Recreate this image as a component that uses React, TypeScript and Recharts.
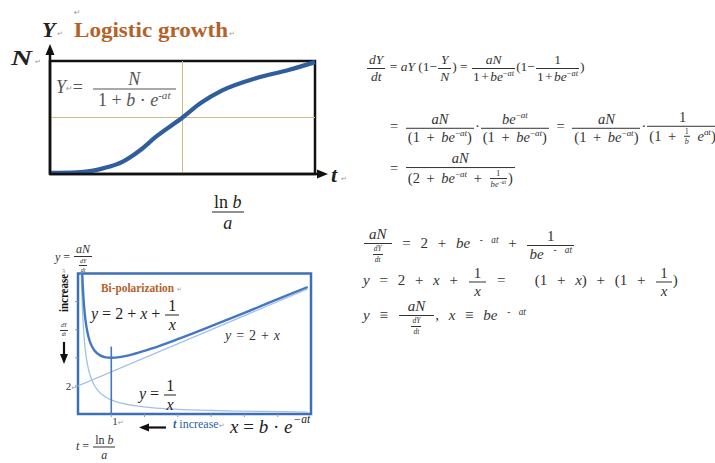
import React from 'react';
import { LineChart, Line, XAxis, YAxis, ReferenceLine, ReferenceArea } from 'recharts';

const SERIF = "'Liberation Serif', 'Times New Roman', serif";
const MARK_FONT = "'DejaVu Sans', sans-serif";

// Logistic growth: time t (0..10) against Y as a share of N
const growthT = [0, 1, 1.5, 2, 2.75, 3.4, 4, 5, 5.7, 6.5, 7.8, 9, 10];
const growthY = [0.01, 0.015, 0.025, 0.05, 0.11, 0.21, 0.33, 0.5, 0.63, 0.74, 0.85, 0.92, 0.99];

// Bi-polarization panel, x = b·e^(-at)
// y = 2 + x + 1/x
const sumX = [0.11, 0.13, 0.16, 0.2, 0.25, 0.32, 0.4, 0.5, 0.65, 0.8, 1, 1.3, 1.7, 2.2, 3, 4, 5, 6, 6.9];
const sumY = [11.2, 9.82, 8.41, 7.2, 6.25, 5.45, 4.9, 4.5, 4.19, 4.05, 4, 4.07, 4.29, 4.65, 5.33, 6.25, 7.2, 8.17, 9.04];
// y = 1/x
const recipX = [0.09, 0.1, 0.12, 0.15, 0.2, 0.25, 0.33, 0.45, 0.6, 0.8, 1, 1.3, 1.7, 2.2, 3, 4, 5, 6, 6.9];
const recipY = [11.1, 10, 8.33, 6.67, 5, 4, 3.03, 2.22, 1.67, 1.25, 1, 0.77, 0.59, 0.45, 0.33, 0.25, 0.2, 0.17, 0.14];
// y = 2 + x
const lineX = [0, 6.9];
const lineY = [2, 8.9];

const bipolarXTicks = [1, 2, 3, 4, 5, 6];
const bipolarYTicks = [2, 4, 6, 8];

const colors = {
  frame: '#111',
  guide: '#cbbd84',
  growth: '#2f5e9c',
  panel: '#3d6fb8',
  curve: '#4477c2',
  faint: '#a3c0e6',
  brown: '#b4622a',
  ink: '#333',
  mark: '#999',
  blueText: '#2e5fa3',
};

const zip = (xs: number[], ys: number[]) => xs.map((x, i) => ({ x, y: ys[i] }));

// paragraph mark left behind by the word processor
function Ret() {
  return <span style={{ fontFamily: MARK_FONT, fontSize: '0.45em', color: colors.mark, verticalAlign: '0.3em' }}>↵</span>;
}

function Sup({ children }: { children: React.ReactNode }) {
  return <sup style={{ fontSize: '0.62em', verticalAlign: '0.6em', lineHeight: 0 }}>{children}</sup>;
}

function Frac({ n, d, pad = 2, size }: { n: React.ReactNode; d: React.ReactNode; pad?: number; size?: string }) {
  return (
    <span style={{ display: 'inline-flex', flexDirection: 'column', alignItems: 'center', verticalAlign: 'middle', fontSize: size, padding: '0 1px' }}>
      <span style={{ padding: `0 ${pad}px 1px` }}>{n}</span>
      <span style={{ alignSelf: 'stretch', borderTop: '1px solid currentColor' }} />
      <span style={{ padding: `1px ${pad}px 0` }}>{d}</span>
    </span>
  );
}

function Row({ x, y, size, color = colors.ink, spacing = 0, children }: {
  x: number; y: number; size: number; color?: string; spacing?: number; children: React.ReactNode;
}) {
  return (
    <div style={{
      position: 'absolute', left: x, top: y, transform: 'translateY(-50%)',
      fontFamily: SERIF, fontSize: size, color, whiteSpace: 'pre', lineHeight: 1, wordSpacing: spacing,
    }}>
      {children}
    </div>
  );
}

const bea = <><i>be</i><Sup>−<i>at</i></Sup></>;
const beaSpaced = <><i>be</i>{' '}<Sup>{'- '}<i>at</i></Sup></>;
const tight = <span style={{ wordSpacing: -2 }}>{'1 + '}{bea}</span>;
const dYdt = <Frac n={<i>dY</i>} d={<i>dt</i>} size="0.5em" pad={1} />;

function GrowthChart() {
  return (
    <LineChart width={340} height={190} margin={{ top: 61, right: 25, bottom: 16, left: 50 }}>
      <XAxis type="number" dataKey="x" domain={[0, 10]} hide />
      <YAxis type="number" domain={[0, 1]} hide />
      <ReferenceLine x={5} stroke={colors.guide} strokeWidth={1} />
      <ReferenceLine y={0.5} stroke={colors.guide} strokeWidth={1} />
      <ReferenceArea x1={0} x2={10} y1={0} y2={1} fill="none" stroke={colors.frame} strokeWidth={2.5} />
      <Line
        data={zip(growthT, growthY)}
        dataKey="y"
        type="monotone"
        stroke={colors.growth}
        strokeWidth={4.2}
        dot={false}
        isAnimationActive={false}
      />
    </LineChart>
  );
}

const XTick = ({ x, y, payload }: any) =>
  payload.value === 1 ? (
    <text x={x + 1} y={y} dy={6} fontSize={11} fontFamily={SERIF} fill={colors.ink}>
      1<tspan fontSize={7} fontFamily={MARK_FONT} fill={colors.mark}>↵</tspan>
    </text>
  ) : <g />;

const YTick = ({ x, y, payload }: any) =>
  payload.value === 2 ? (
    <text x={x + 4} y={y} dy={4} textAnchor="end" fontSize={11} fontFamily={SERIF} fill={colors.ink}>
      2<tspan fontSize={7} fontFamily={MARK_FONT} fill={colors.mark}>↵</tspan>
    </text>
  ) : <g />;

function BipolarChart() {
  return (
    <LineChart width={330} height={180} margin={{ top: 23.5, right: 19, bottom: 2, left: 58 }}>
      <XAxis
        type="number"
        dataKey="x"
        domain={[0, 7]}
        ticks={bipolarXTicks}
        axisLine={false}
        tickSize={3}
        tickLine={{ stroke: '#8d9bb0' }}
        tick={<XTick />}
        height={14}
        allowDataOverflow
      />
      <YAxis
        type="number"
        domain={[0, 10]}
        ticks={bipolarYTicks}
        axisLine={false}
        tickSize={3}
        tickLine={{ stroke: '#8d9bb0' }}
        tick={<YTick />}
        width={20}
        allowDataOverflow
      />
      <Line data={zip(lineX, lineY)} dataKey="y" type="linear" stroke={colors.faint} strokeWidth={1.3} dot={false} isAnimationActive={false} />
      <Line data={zip(recipX, recipY)} dataKey="y" type="monotone" stroke={colors.faint} strokeWidth={1.3} dot={false} isAnimationActive={false} />
      <Line data={zip(sumX, sumY)} dataKey="y" type="monotone" stroke={colors.curve} strokeWidth={2.4} dot={false} isAnimationActive={false} />
      <ReferenceLine segment={[{ x: 1, y: 0 }, { x: 1, y: 4.8 }]} stroke={colors.curve} strokeWidth={1.6} />
      <ReferenceArea x1={0} x2={7} y1={0} y2={10} fill="none" stroke={colors.panel} strokeWidth={2.5} />
    </LineChart>
  );
}

export default function App() {
  return (
    <div style={{ position: 'absolute', left: 0, top: 0, width: 715, height: 463, background: '#fff', overflow: 'hidden', fontFamily: SERIF }}>
      <div style={{ position: 'absolute', left: 0, top: 0 }}>
        <GrowthChart />
      </div>
      <div style={{ position: 'absolute', left: 0, top: 250 }}>
        <BipolarChart />
      </div>

      <svg width={715} height={463} style={{ position: 'absolute', left: 0, top: 0, pointerEvents: 'none' }} fontFamily={SERIF}>
        {/* axes with arrow heads for the growth curve */}
        <line x1={50} y1={174} x2={50} y2={52} stroke={colors.frame} strokeWidth={2.5} />
        <polygon points="50,44 45.5,55 54.5,55" fill={colors.frame} />
        <line x1={50} y1={174} x2={318} y2={174} stroke={colors.frame} strokeWidth={2.5} />
        <polygon points="328,174 317,169.5 317,178.5" fill={colors.frame} />

        <text x={74} y={15} fontSize={8} fontFamily={MARK_FONT} fill={colors.mark}>↵</text>
        <text x={42} y={37} fontSize={22} fontWeight="bold" fontStyle="italic" fill="#222">Y</text>
        <text x={57} y={36} fontSize={7} fontFamily={MARK_FONT} fill={colors.mark}>↵</text>
        <text x={74} y={37} fontSize={21} fontWeight="bold" fill={colors.brown} textLength={154} lengthAdjust="spacingAndGlyphs">Logistic growth</text>
        <text x={229} y={36} fontSize={7} fontFamily={MARK_FONT} fill={colors.mark}>↵</text>
        <text x={11} y={65} fontSize={22} fontWeight="bold" fontStyle="italic" fill="#222" textLength={21} lengthAdjust="spacingAndGlyphs">N</text>
        <text x={35} y={64} fontSize={7} fontFamily={MARK_FONT} fill={colors.mark}>↵</text>
        <text x={331} y={182} fontSize={22} fontWeight="bold" fontStyle="italic" fill="#222">t</text>
        <text x={341} y={181} fontSize={7} fontFamily={MARK_FONT} fill={colors.mark}>↵</text>

        {/* bi-polarization labels */}
        <text x={101} y={292} fontSize={12} fontWeight="bold" fill={colors.brown} textLength={73} lengthAdjust="spacingAndGlyphs">Bi-polarization</text>
        <text x={177} y={291} fontSize={6} fontFamily={MARK_FONT} fill={colors.mark}>↵</text>
        <text x={225} y={340} fontSize={14} fill={colors.ink} textLength={55} lengthAdjust="spacing">
          <tspan fontStyle="italic">y</tspan> = 2 + <tspan fontStyle="italic">x</tspan>
        </text>
        <text x={63} y={312} fontSize={13} fontWeight="bold" fill="#111" transform="rotate(-90 63 312)" textLength={38} lengthAdjust="spacingAndGlyphs" dominantBaseline="central">increase</text>
        <text x={63} y={273} fontSize={6} fontFamily={MARK_FONT} fill={colors.mark} transform="rotate(-90 63 273)" dominantBaseline="central">↵</text>
        <line x1={64} y1={342} x2={64} y2={356} stroke="#111" strokeWidth={2.2} />
        <polygon points="64,364 60,354 68,354" fill="#111" />

        <line x1={142} y1={427.5} x2={166} y2={427.5} stroke="#111" strokeWidth={2.2} />
        <polygon points="139,427.5 149,423.5 149,431.5" fill="#111" />
        <text x={173} y={428} fontSize={12} fill={colors.blueText}>
          <tspan fontWeight="bold" fontStyle="italic">t</tspan> increase<tspan fontSize={7} fontFamily={MARK_FONT} fill={colors.mark}>↵</tspan>
        </text>
        <text x={230} y={433} fontSize={19} fill="#222">
          <tspan fontStyle="italic">x</tspan> = <tspan fontStyle="italic">b</tspan> · <tspan fontStyle="italic">e</tspan>
          <tspan dx={1} dy={-10} fontSize={11.5} fontStyle="italic">−at</tspan>
        </text>
      </svg>

      {/* formula inside the growth panel */}
      <Row x={56} y={89} size={18} color="#555">
        <i>Y</i><Ret />{'=  '}
        <Frac n={<i>N</i>} d={<>{'1 + '}<i>b</i>{' · '}<i>e</i><Sup>-<i>at</i></Sup></>} pad={5} />
      </Row>
      <Row x={211} y={212} size={18} color="#222">
        <Frac n={<>{'ln '}<i>b</i></>} d={<i>a</i>} />
      </Row>

      {/* formulas in the bi-polarization panel */}
      <Row x={55} y={258} size={12}>
        <i>y</i>{' = '}<Frac n={<i>aN</i>} d={dYdt} />
      </Row>
      <Row x={59} y={330} size={11}>
        {dYdt}
      </Row>
      <Row x={91} y={315} size={16} color="#222">
        <i>y</i>{' = 2 + '}<i>x</i>{' + '}<Frac n="1" d={<i>x</i>} pad={3} />
      </Row>
      <Row x={139} y={395} size={16} color="#222">
        <i>y</i>{' = '}<Frac n="1" d={<i>x</i>} pad={2} />
      </Row>
      <Row x={76} y={447} size={12}>
        <i>t</i>{' = '}<Frac n={<>{'ln '}<i>b</i></>} d={<i>a</i>} />
      </Row>

      {/* derivation of dY/dt */}
      <Row x={366} y={68} size={13.5}>
        <Frac n={<i>dY</i>} d={<i>dt</i>} />
        {' = '}<i>aY</i>{' (1−'}<Frac n={<i>Y</i>} d={<i>N</i>} />{') = '}
        <Frac n={<i>aN</i>} d={tight} pad={1} />
        {'(1−'}<Frac n="1" d={tight} pad={1} />{')'}
      </Row>
      <Row x={390} y={128} size={14.5} spacing={3}>
        {'= '}<Frac n={<i>aN</i>} d={<>{'(1 + '}{bea}{')'}</>} />
        {'·'}<Frac n={bea} d={<>{'(1 + '}{bea}{')'}</>} />
        {' = '}<Frac n={<i>aN</i>} d={<>{'(1 + '}{bea}{')'}</>} />
        {'·'}<Frac n="1" d={<>{'(1 + '}<Frac n="1" d={<i>b</i>} size="0.55em" pad={1} />{' '}<i>e</i><Sup><i>at</i></Sup>{')'}</>} />
      </Row>
      <Row x={390} y={170} size={14.5} spacing={3}>
        {'= '}<Frac n={<i>aN</i>} d={<>{'(2 + '}{bea}{' + '}<Frac n="1" d={bea} size="0.6em" pad={1} />{')'}</>} />
      </Row>

      <Row x={363} y={245} size={15} spacing={6}>
        <Frac n={<i>aN</i>} d={dYdt} pad={5} />
        {' = 2 + '}{beaSpaced}{' + '}<Frac n="1" d={beaSpaced} pad={2} />
      </Row>
      <Row x={363} y={282} size={15} spacing={6}>
        <i>y</i>{' = 2 + '}<i>x</i>{' + '}<Frac n="1" d={<i>x</i>} pad={5} />
        {' =   (1 + '}<i>x</i>{') + (1 + '}<Frac n="1" d={<i>x</i>} pad={4} />{')'}
      </Row>
      <Row x={363} y={317} size={15} spacing={6}>
        <i>y</i>{' ≡ '}<Frac n={<i>aN</i>} d={dYdt} pad={9} />{', '}<i>x</i>{' ≡ '}{beaSpaced}
      </Row>
    </div>
  );
}
